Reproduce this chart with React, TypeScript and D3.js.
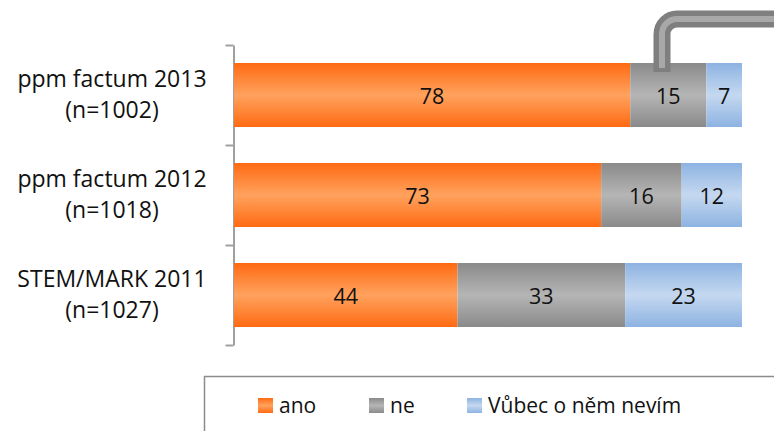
import { useEffect, useRef } from "react"
import * as d3 from "d3"

const categories = ["ppm factum 2013", "ppm factum 2012", "STEM/MARK 2011"]
const sampleSizes = ["(n=1002)", "(n=1018)", "(n=1027)"]
const seriesNames = ["ano", "ne", "Vůbec o něm nevím"]
const anoValues = [78, 73, 44]
const neValues = [15, 16, 33]
const nevimValues = [7, 12, 23]

const FONT = "'Open Sans', sans-serif"

export default function App() {
  const svgRef = useRef<SVGSVGElement>(null)

  useEffect(() => {
    if (!svgRef.current) return
    const svg = d3.select(svgRef.current)
    svg.selectAll("*").remove()

    const width = 774
    const height = 431

    // gradients (dark edge, light middle)
    const colors = [
      { id: "g-ano", edge: "#ff6a12", mid: "#ffa25e" },
      { id: "g-ne", edge: "#8a8a8a", mid: "#b5b5b5" },
      { id: "g-nevim", edge: "#8db3e2", mid: "#c5d8f0" },
    ]
    const defs = svg.append("defs")
    colors.forEach((c) => {
      const g = defs
        .append("linearGradient")
        .attr("id", c.id)
        .attr("x1", 0)
        .attr("y1", 0)
        .attr("x2", 0)
        .attr("y2", 1)
      g.append("stop").attr("offset", "0%").attr("stop-color", c.edge)
      g.append("stop").attr("offset", "50%").attr("stop-color", c.mid)
      g.append("stop").attr("offset", "100%").attr("stop-color", c.edge)
    })

    // scales (100% stacked)
    const x = d3.scaleLinear().domain([0, 1]).range([234, 742])
    const y = d3
      .scaleBand()
      .domain(categories)
      .range([45, 345])
      .paddingInner(0.36)
      .paddingOuter(0.18)

    // stacked data
    const rows = categories.map((cat, i) => ({
      cat,
      ano: anoValues[i],
      ne: neValues[i],
      nevim: nevimValues[i],
    }))
    const keys = ["ano", "ne", "nevim"]
    const stacked = d3.stack<any>().keys(keys).offset(d3.stackOffsetExpand)(rows)

    // vertical axis with ticks at band boundaries
    const edge = d3
      .scaleLinear()
      .domain([0, categories.length])
      .range([45, 345])
    const axis = svg
      .append("g")
      .attr("transform", "translate(233.5,0)")
      .call(
        d3
          .axisLeft(edge)
          .tickValues(d3.range(categories.length + 1))
          .tickSize(8)
          .tickSizeOuter(0)
          .tickFormat(() => ""),
      )
    axis.selectAll("line").attr("stroke", "#a0a0a0").attr("stroke-width", 2)
    axis.select(".domain").attr("stroke", "#a0a0a0").attr("stroke-width", 2)

    // bars
    stacked.forEach((layer, li) => {
      const key = keys[li]
      const g = svg.append("g").attr("fill", `url(#${colors[li].id})`)
      g.selectAll("rect")
        .data(layer)
        .enter()
        .append("rect")
        .attr("x", (d) => x(d[0]))
        .attr("y", (d) => y(d.data.cat) || 0)
        .attr("width", (d) => x(d[1]) - x(d[0]))
        .attr("height", y.bandwidth())

      svg
        .append("g")
        .selectAll("text")
        .data(layer)
        .enter()
        .append("text")
        .attr("x", (d) => (x(d[0]) + x(d[1])) / 2)
        .attr("y", (d) => (y(d.data.cat) || 0) + y.bandwidth() / 2 + 9)
        .attr("text-anchor", "middle")
        .attr("font-family", FONT)
        .attr("font-size", "21.5px")
        .attr("fill", "#111")
        .text((d) => d.data[key])
    })

    // category labels
    const labels = svg
      .append("g")
      .selectAll("text")
      .data(categories)
      .enter()
      .append("text")
      .attr("text-anchor", "middle")
      .attr("font-family", FONT)
      .attr("font-size", "23px")
      .attr("fill", "#111")
    labels
      .append("tspan")
      .attr("x", 112)
      .attr("y", (d) => (y(d) || 0) + y.bandwidth() / 2 - 8)
      .text((d) => d)
    labels
      .append("tspan")
      .attr("x", 112)
      .attr("y", (d) => (y(d) || 0) + y.bandwidth() / 2 + 23)
      .text((d, i) => sampleSizes[i])

    // decorative grey pipe callout
    svg
      .append("path")
      .attr("d", "M662,72 V34 A15,15 0 0 1 677,19 H800")
      .attr("fill", "none")
      .attr("stroke", "#7f7f7f")
      .attr("stroke-width", 17)
    svg
      .append("path")
      .attr("d", "M662,68 V34 A15,15 0 0 1 677,19 H800")
      .attr("fill", "none")
      .attr("stroke", "#a8a8a8")
      .attr("stroke-width", 6)

    // legend box
    svg
      .append("rect")
      .attr("x", 204.5)
      .attr("y", 376.5)
      .attr("width", 600)
      .attr("height", 100)
      .attr("fill", "#fff")
      .attr("stroke", "#8c8c8c")
      .attr("stroke-width", 1.5)

    const legendX = [258, 369, 467]
    const legend = svg
      .append("g")
      .selectAll("g")
      .data(seriesNames)
      .enter()
      .append("g")
      .attr("transform", (d, i) => `translate(${legendX[i]},398)`)
    legend
      .append("rect")
      .attr("width", 15)
      .attr("height", 15)
      .attr("fill", (d, i) => `url(#${colors[i].id})`)
    legend
      .append("text")
      .attr("x", 21)
      .attr("y", 15)
      .attr("font-family", FONT)
      .attr("font-size", "21px")
      .attr("fill", "#111")
      .text((d) => d)

    svg.attr("width", width).attr("height", height)
  }, [])

  return (
    <div style={{ position: "absolute", left: 0, top: 0 }}>
      <svg ref={svgRef} width={774} height={431} style={{ display: "block" }}></svg>
    </div>
  )
}
